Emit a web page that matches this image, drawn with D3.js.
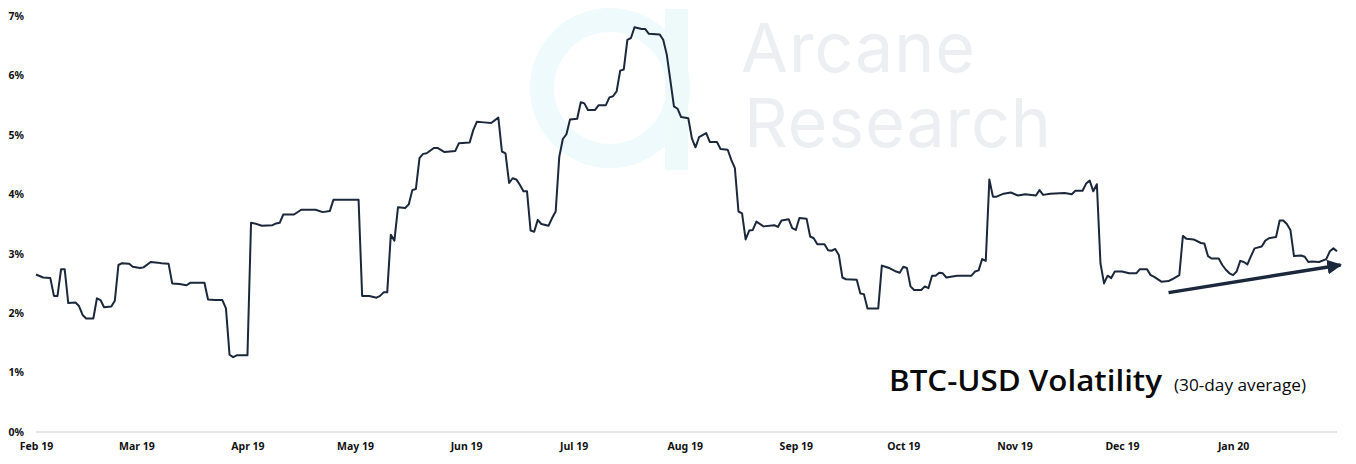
<!DOCTYPE html>
<html>
<head>
<meta charset="utf-8">
<script src="https://cdn.jsdelivr.net/npm/d3@7"></script>
<style>
  html, body { margin: 0; padding: 0; background: #fff; }
  svg { display: block; }
</style>
</head>
<body>
<svg id="chart" width="1356" height="464"></svg>
<script>
// ---- data ----
const dates = [
"2019-02-01","2019-02-03","2019-02-05","2019-02-06","2019-02-07","2019-02-08","2019-02-09","2019-02-10","2019-02-12","2019-02-13",
"2019-02-14","2019-02-15","2019-02-17","2019-02-18","2019-02-19","2019-02-20","2019-02-22","2019-02-23","2019-02-24","2019-02-25",
"2019-02-27","2019-02-28","2019-03-02","2019-03-03","2019-03-05","2019-03-07","2019-03-08","2019-03-10","2019-03-11","2019-03-13",
"2019-03-15","2019-03-16","2019-03-20","2019-03-21","2019-03-23","2019-03-25","2019-03-26","2019-03-27","2019-03-28","2019-03-29",
"2019-04-01","2019-04-02","2019-04-03","2019-04-05","2019-04-08","2019-04-09","2019-04-10","2019-04-11","2019-04-14","2019-04-16",
"2019-04-20","2019-04-22","2019-04-24","2019-04-25","2019-05-02","2019-05-03","2019-05-05","2019-05-07","2019-05-08","2019-05-09",
"2019-05-10","2019-05-11","2019-05-12","2019-05-13","2019-05-15","2019-05-16","2019-05-17","2019-05-18","2019-05-19","2019-05-20",
"2019-05-21","2019-05-23","2019-05-24","2019-05-26","2019-05-29","2019-05-30","2019-06-02","2019-06-03","2019-06-04","2019-06-06",
"2019-06-08","2019-06-10","2019-06-11","2019-06-12","2019-06-13","2019-06-14","2019-06-15","2019-06-16","2019-06-17","2019-06-18",
"2019-06-19","2019-06-20","2019-06-21","2019-06-22","2019-06-24","2019-06-25","2019-06-26","2019-06-27","2019-06-28","2019-06-29",
"2019-06-30","2019-07-02","2019-07-03","2019-07-04","2019-07-05","2019-07-07","2019-07-08","2019-07-10","2019-07-11","2019-07-12",
"2019-07-13","2019-07-14","2019-07-15","2019-07-16","2019-07-17","2019-07-18","2019-07-20","2019-07-21","2019-07-22","2019-07-25",
"2019-07-26","2019-07-27","2019-07-29","2019-07-30","2019-07-31","2019-08-02","2019-08-03","2019-08-04","2019-08-05","2019-08-07",
"2019-08-08","2019-08-10","2019-08-11","2019-08-13","2019-08-14","2019-08-15","2019-08-16","2019-08-17","2019-08-18","2019-08-19",
"2019-08-20","2019-08-21","2019-08-23","2019-08-26","2019-08-27","2019-08-28","2019-08-30","2019-08-31","2019-09-01","2019-09-02",
"2019-09-04","2019-09-05","2019-09-06","2019-09-07","2019-09-09","2019-09-10","2019-09-11","2019-09-12","2019-09-13","2019-09-14",
"2019-09-15","2019-09-18","2019-09-19","2019-09-20","2019-09-21","2019-09-24","2019-09-25","2019-09-26","2019-09-27","2019-09-29",
"2019-09-30","2019-10-01","2019-10-02","2019-10-03","2019-10-04","2019-10-06","2019-10-07","2019-10-08","2019-10-09","2019-10-10",
"2019-10-11","2019-10-12","2019-10-13","2019-10-16","2019-10-20","2019-10-21","2019-10-22","2019-10-23","2019-10-24","2019-10-25",
"2019-10-26","2019-10-27","2019-10-29","2019-10-31","2019-11-02","2019-11-04","2019-11-07","2019-11-08","2019-11-09","2019-11-11",
"2019-11-15","2019-11-17","2019-11-18","2019-11-20","2019-11-21","2019-11-22","2019-11-23","2019-11-24","2019-11-25","2019-11-26",
"2019-11-27","2019-11-28","2019-11-29","2019-12-01","2019-12-03","2019-12-05","2019-12-06","2019-12-08","2019-12-09","2019-12-10",
"2019-12-12","2019-12-14","2019-12-15","2019-12-17","2019-12-18","2019-12-19","2019-12-21","2019-12-23","2019-12-24","2019-12-25",
"2019-12-26","2019-12-28","2019-12-29","2019-12-30","2019-12-31","2020-01-01","2020-01-02","2020-01-03","2020-01-04","2020-01-05",
"2020-01-06","2020-01-07","2020-01-09","2020-01-10","2020-01-11","2020-01-13","2020-01-14","2020-01-15","2020-01-16","2020-01-17",
"2020-01-18","2020-01-20","2020-01-21","2020-01-22","2020-01-23","2020-01-25","2020-01-27","2020-01-28","2020-01-29","2020-01-30"
];
const volatility = [
2.65,2.60,2.59,2.29,2.29,2.74,2.74,2.17,2.18,2.12,
1.97,1.91,1.91,2.25,2.22,2.10,2.11,2.21,2.81,2.84,
2.83,2.78,2.76,2.77,2.86,2.85,2.84,2.83,2.50,2.49,
2.47,2.51,2.51,2.23,2.22,2.22,2.08,1.30,1.26,1.29,
1.29,3.52,3.51,3.47,3.48,3.51,3.52,3.66,3.66,3.74,
3.74,3.70,3.72,3.91,3.91,2.29,2.29,2.26,2.29,2.35,
2.35,3.32,3.22,3.78,3.77,3.83,4.07,4.09,4.61,4.68,
4.69,4.78,4.78,4.71,4.73,4.86,4.87,5.08,5.22,5.21,
5.20,5.29,4.72,4.69,4.19,4.27,4.25,4.16,4.05,4.05,
3.39,3.37,3.57,3.50,3.47,3.60,3.71,4.63,4.93,5.01,
5.26,5.27,5.55,5.53,5.42,5.42,5.50,5.50,5.63,5.65,
5.73,6.08,6.10,6.60,6.63,6.81,6.78,6.78,6.70,6.69,
6.60,6.35,5.48,5.44,5.30,5.28,4.94,4.79,4.96,5.03,
4.88,4.88,4.76,4.75,4.58,4.44,3.71,3.68,3.24,3.39,
3.40,3.54,3.46,3.48,3.45,3.56,3.58,3.43,3.40,3.60,
3.59,3.29,3.26,3.16,3.16,3.06,3.05,3.08,2.98,2.60,
2.57,2.56,2.33,2.32,2.08,2.08,2.80,2.78,2.76,2.70,
2.68,2.78,2.76,2.45,2.39,2.39,2.45,2.42,2.63,2.63,
2.68,2.67,2.60,2.63,2.63,2.70,2.72,2.91,2.88,4.25,
3.96,3.96,4.01,4.03,3.98,4.00,3.98,4.07,3.99,4.01,
4.02,4.00,4.06,4.06,4.18,4.23,4.05,4.17,2.84,2.50,
2.63,2.59,2.70,2.70,2.67,2.67,2.74,2.74,2.64,2.61,
2.53,2.54,2.57,2.64,3.30,3.25,3.24,3.18,3.17,2.96,
2.92,2.92,2.81,2.73,2.67,2.64,2.70,2.88,2.86,2.82,
2.96,3.09,3.12,3.22,3.26,3.28,3.56,3.56,3.50,3.40,
2.96,2.97,2.95,2.86,2.87,2.86,2.91,3.04,3.09,3.04
];
const xDomain = ["2019-02-01", "2020-01-30"];
const yTicks = [0, 1, 2, 3, 4, 5, 6, 7];
const arrowDates = ["2019-12-14", "2020-01-31"];
const arrowValues = [2.345, 2.81];
const titleText = "BTC-USD Volatility";
const subtitleText = "(30-day average)";
const watermark = ["Arcane", "Research"];

// ---- drawing ----
const parse = d3.utcParse("%Y-%m-%d");
const data = dates.map((d, i) => ({ date: parse(d), value: volatility[i] }));

const svg = d3.select("#chart");
const x = d3.scaleUtc().domain(xDomain.map(parse)).range([36, 1337]);
const y = d3.scaleLinear().domain([0, 7]).range([432, 16]);

// watermark logo (ring + bar)
const logo = svg.append("g");
logo.append("circle").attr("cx", 610).attr("cy", 88).attr("r", 68)
  .attr("fill", "none").attr("stroke", "#eefafb").attr("stroke-width", 24);
logo.append("rect").attr("x", 665).attr("y", 9).attr("width", 23).attr("height", 161)
  .attr("fill", "#eef9fa");
const wm = svg.append("g").attr("font-family", "Inter, 'Noto Sans', sans-serif")
  .attr("font-size", 68).attr("fill", "#eceef2");
wm.append("text").attr("x", 741).attr("y", 72).text(watermark[0]).attr("textLength", 234);
wm.append("text").attr("x", 744).attr("y", 147).text(watermark[1]).attr("textLength", 307);

// zero baseline
svg.append("line").attr("x1", x.range()[0]).attr("x2", x.range()[1])
  .attr("y1", y(0)).attr("y2", y(0)).attr("stroke", "#dcdcdc").attr("stroke-width", 1.5);

// y axis labels
const yAxis = d3.axisLeft(y).tickValues(yTicks).tickFormat(d => d + "%").tickSize(0).tickPadding(0);
const gy = svg.append("g").attr("transform", "translate(24,0)").call(yAxis);
gy.select(".domain").remove();
gy.selectAll("text").attr("font-family", "'Noto Sans', 'Open Sans', sans-serif")
  .attr("font-weight", 700).attr("font-size", 10.5).attr("fill", "#111");

// x axis labels
const xAxis = d3.axisBottom(x).ticks(d3.utcMonth.every(1)).tickFormat(d3.utcFormat("%b %y")).tickSize(0).tickPadding(0);
const gx = svg.append("g").attr("transform", "translate(0,443)").call(xAxis);
gx.select(".domain").remove();
gx.selectAll("text").attr("font-family", "'Noto Sans', 'Open Sans', sans-serif")
  .attr("font-weight", 700).attr("font-size", 10.5).attr("fill", "#111");

// line
const line = d3.line().x(d => x(d.date)).y(d => y(d.value));
svg.append("path").datum(data).attr("d", line)
  .attr("fill", "none").attr("stroke", "#1b273a").attr("stroke-width", 2)
  .attr("stroke-linejoin", "round");

// trend arrow
svg.append("defs").append("marker").attr("id", "ah")
  .attr("viewBox", "0 0 10 10").attr("refX", 9).attr("refY", 5)
  .attr("markerWidth", 4.2).attr("markerHeight", 4.2).attr("orient", "auto")
  .append("path").attr("d", "M0,0 L10,5 L0,10 Z").attr("fill", "#1b273a");
const arrowPts = arrowDates.map((d, i) => [x(parse(d)), y(arrowValues[i])]);
svg.append("path").attr("d", d3.line()(arrowPts))
  .attr("stroke", "#1b273a").attr("stroke-width", 3.5).attr("fill", "none")
  .attr("marker-end", "url(#ah)");

// title
svg.append("text").attr("x", 889).attr("y", 391).text(titleText)
  .attr("font-family", "'Open Sans', 'Noto Sans', sans-serif").attr("fill", "#0a0a0a")
  .attr("font-size", 28).attr("font-weight", 600)
  .attr("textLength", 273).attr("lengthAdjust", "spacingAndGlyphs");
svg.append("text").attr("x", 1174).attr("y", 391).text(subtitleText)
  .attr("font-family", "'Open Sans', 'Noto Sans', sans-serif").attr("fill", "#0a0a0a")
  .attr("font-size", 16).attr("font-weight", 400)
  .attr("textLength", 132).attr("lengthAdjust", "spacingAndGlyphs");
</script>
</body>
</html>
